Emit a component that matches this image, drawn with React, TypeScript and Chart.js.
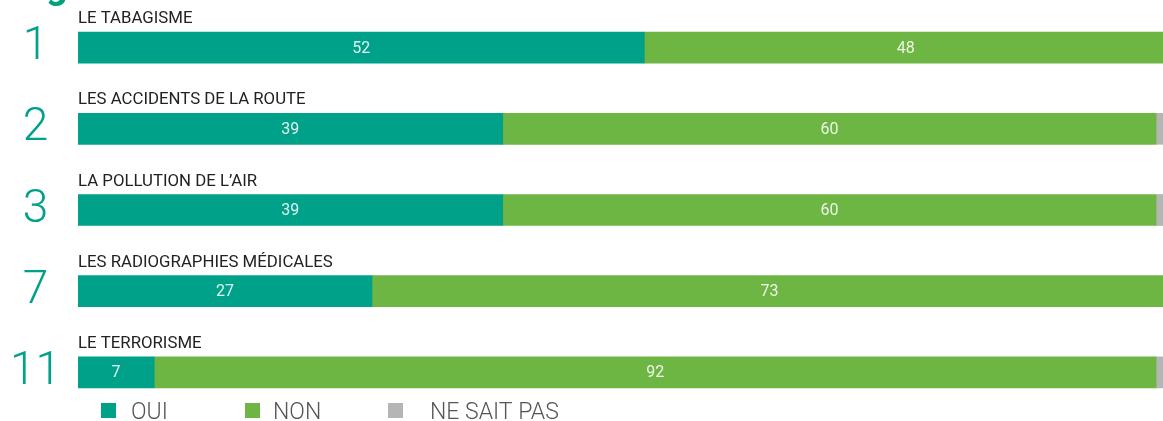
import React, { useEffect, useRef } from "react";
import { Chart, registerables } from "chart.js";

Chart.register(...registerables);

const categories = [
  "LE TABAGISME",
  "LES ACCIDENTS DE LA ROUTE",
  "LA POLLUTION DE L\u2019AIR",
  "LES RADIOGRAPHIES MÉDICALES",
  "LE TERRORISME",
];
const ranks = ["1", "2", "3", "7", "11"];
const ouiValues = [52, 39, 39, 27, 7];
const nonValues = [48, 60, 60, 73, 92];
const nspValues = [0, 1, 1, 0, 1];
const seriesNames = ["OUI", "NON", "NE SAIT PAS"];
const seriesColors = ["#00A189", "#6DB643", "#B5B5B5"];
const titleText = "Rang";

const FONT = "Roboto, 'Noto Sans', sans-serif";

const overlayPlugin = {
  id: "overlay",
  afterDatasetsDraw(chart: any) {
    const ctx = chart.ctx;
    const area = chart.chartArea;
    ctx.save();
    // values inside bars
    [0, 1].forEach((di) => {
      const meta = chart.getDatasetMeta(di);
      const data = chart.data.datasets[di].data as number[];
      meta.data.forEach((el: any, i: number) => {
        const v = data[i];
        if (v < 3) return;
        const left = Math.min(el.x, el.base);
        const right = Math.min(Math.max(el.x, el.base), area.right + 4);
        ctx.font = `400 16px ${FONT}`;
        ctx.fillStyle = "rgba(255,255,255,0.88)";
        ctx.textAlign = "center";
        ctx.textBaseline = "middle";
        ctx.fillText(String(v), (left + right) / 2, el.y + 1);
      });
    });
    // category labels above bars
    const meta0 = chart.getDatasetMeta(0);
    meta0.data.forEach((el: any, i: number) => {
      const top = el.y - el.height / 2;
      ctx.font = `400 16.8px ${FONT}`;
      ctx.fillStyle = "#222222";
      ctx.textAlign = "left";
      ctx.textBaseline = "alphabetic";
      ctx.fillText(chart.data.labels[i].name, area.left, top - 9);
    });
    // partial title at top
    ctx.font = `700 38px ${FONT}`;
    ctx.fillStyle = "#00A27A";
    ctx.textAlign = "left";
    ctx.textBaseline = "alphabetic";
    ctx.fillText(titleText, -20, -2);
    // legend
    const itemX = [101, 245, 388];
    const textX = [131, 273, 430];
    chart.data.datasets.forEach((ds: any, i: number) => {
      ctx.fillStyle = ds.backgroundColor;
      ctx.fillRect(itemX[i], 403, 15, 15);
      ctx.font = `300 23px ${FONT}`;
      ctx.fillStyle = "#555555";
      ctx.textAlign = "left";
      ctx.textBaseline = "alphabetic";
      ctx.fillText(ds.label, textX[i], 419);
    });
    ctx.restore();
  },
};

export default function App() {
  const canvasRef = useRef<HTMLCanvasElement>(null);

  useEffect(() => {
    document.body.style.margin = "0";
    const labels = categories.map((name, i) => ({ name, rank: ranks[i] }));
    const values = [ouiValues, nonValues, nspValues];
    const chart = new Chart(canvasRef.current as HTMLCanvasElement, {
      type: "bar",
      data: {
        labels: labels as any,
        datasets: seriesNames.map((name, i) => ({
          label: name,
          data: values[i],
          backgroundColor: seriesColors[i],
          borderWidth: 0,
          barThickness: 31,
        })),
      },
      options: {
        indexAxis: "y",
        animation: false,
        responsive: true,
        maintainAspectRatio: false,
        layout: { padding: { top: 7, bottom: 8, left: 0, right: 0 } },
        plugins: {
          legend: { display: false },
          tooltip: { enabled: false },
          title: { display: false },
        },
        scales: {
          x: {
            stacked: true,
            min: 0,
            max: 99.63,
            display: false,
          },
          y: {
            stacked: true,
            grid: { display: false, drawTicks: false },
            border: { display: false },
            afterFit: (scale: any) => {
              scale.width = 78;
              scale.paddingTop = 0;
              scale.paddingBottom = 0;
            },
            ticks: {
              crossAlign: "center",
              padding: 17,
              color: "#00A189",
              font: { family: FONT, size: 46, weight: 300 as any },
              callback: (_v: any, i: number) => ranks[i],
            },
          },
        },
      },
      plugins: [overlayPlugin],
    });
    return () => chart.destroy();
  }, []);

  return (
    <div style={{ position: "fixed", left: 0, top: 0, width: 1163, height: 421, background: "#fff" }}>
      <canvas ref={canvasRef} />
    </div>
  );
}
